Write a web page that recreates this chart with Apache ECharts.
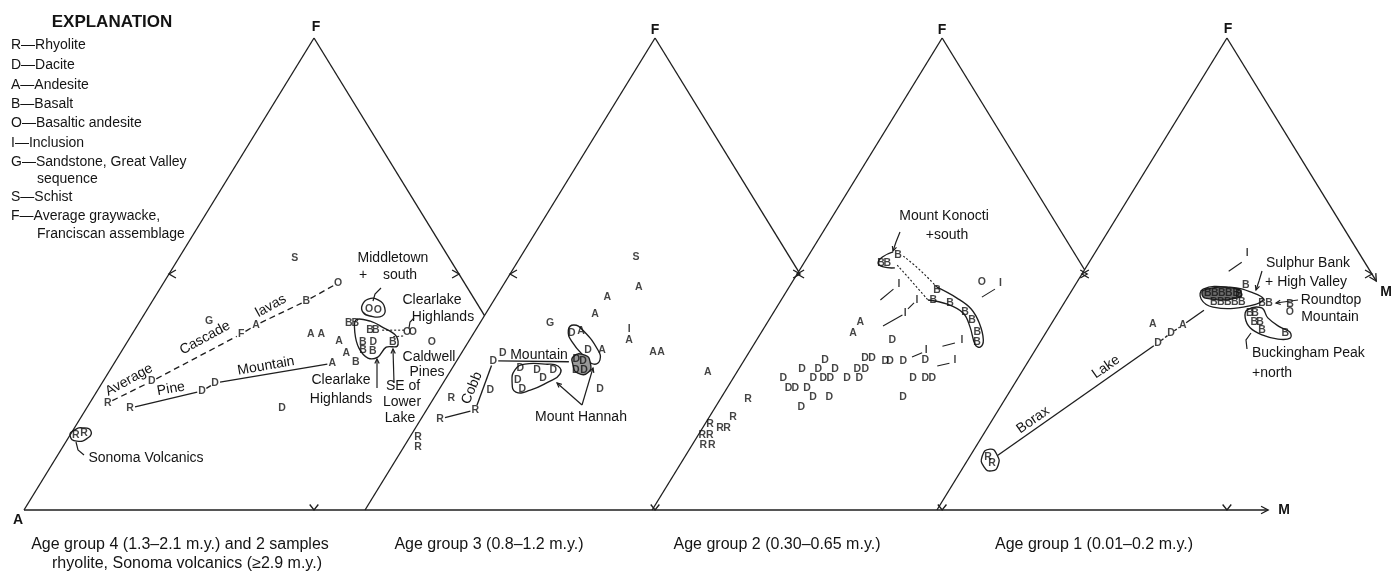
<!DOCTYPE html>
<html>
<head>
<meta charset="utf-8">
<title>AFM diagrams, Clear Lake volcanics</title>
<script src="https://cdn.jsdelivr.net/npm/echarts@6/dist/echarts.min.js"></script>
<style>
  html, body { margin: 0; padding: 0; background: #ffffff; }
  #chart { width: 1393px; height: 576px; }
</style>
</head>
<body>
<div id="chart"></div>
<script>
// ---------------------------------------------------------------
// Four A–F–M ternary diagrams set side by side on one A→M baseline.
// Each sample is [symbol, F %, M %]; A % = 100 − F − M.
// ---------------------------------------------------------------

// Left-vertex offset of each triangle along the baseline (in % of a side)
const triangleOffsets = [0, 58.8, 108.3, 157.4];

const ageGroupCaptions = [
  'Age group 4 (1.3–2.1 m.y.) and 2 samples',
  'Age group 3 (0.8–1.2 m.y.)',
  'Age group 2 (0.30–0.65 m.y.)',
  'Age group 1 (0.01–0.2 m.y.)'
];
const ageGroup4Note = 'rhyolite, Sonoma volcanics (≥2.9 m.y.)';

const legendLines = [
  'R—Rhyolite', 'D—Dacite', 'A—Andesite', 'B—Basalt', 'O—Basaltic andesite',
  'I—Inclusion', 'G—Sandstone, Great Valley', 'sequence', 'S—Schist',
  'F—Average graywacke,', 'Franciscan assemblage'
];

// Age group 4 (first triangle)
const ageGroup4 = [
  ['R', 22.7, 3.1], ['D', 27.3, 8.4], ['F', 37.3, 18.8], ['A', 39.2, 20.4], ['B', 44.3, 26.5], ['O', 48.1, 30.1],
  ['R', 21.6, 7.5], ['D', 25.2, 18.1], ['D', 26.9, 19.5], ['A', 31.1, 37.6],
  ['R', 15.9, 1.0], ['R', 16.3, 2.2],
  ['G', 40.0, 11.9], ['S', 53.4, 20.0], ['D', 21.6, 33.7],
  ['A', 37.3, 30.8], ['A', 37.3, 32.6], ['A', 35.8, 36.4], ['A', 33.3, 38.9], ['B', 31.4, 41.5],
  ['B', 39.6, 36.2], ['B', 39.6, 37.3], ['B', 38.1, 40.6], ['B', 38.1, 41.6], ['B', 35.6, 40.6],
  ['D', 35.6, 42.4], ['B', 33.9, 41.5], ['B', 33.7, 43.3], ['B', 35.6, 45.8],
  ['O', 37.7, 47.2], ['O', 37.7, 48.2], ['O', 35.6, 52.5],
  ['O', 42.6, 38.2], ['O', 42.4, 39.8]
];

// Age group 3 (second triangle)
const ageGroup3 = [
  ['S', 53.6, 19.9], ['A', 47.2, 23.6], ['A', 45.1, 19.2], ['A', 41.5, 18.9], ['G', 39.6, 12.1],
  ['I', 38.3, 26.4], ['A', 36.0, 27.5], ['A', 33.5, 32.9], ['A', 33.5, 34.3], ['A', 29.2, 44.5],
  ['D', 37.5, 16.9], ['A', 37.9, 18.3], ['D', 33.9, 21.5], ['A', 33.9, 23.9],
  ['D', 32.0, 20.4], ['D', 31.6, 21.8], ['D', 29.7, 21.5], ['D', 29.7, 22.9],
  ['D', 31.6, 6.3], ['D', 33.3, 7.1],
  ['D', 30.1, 11.7], ['D', 29.7, 14.8], ['D', 29.7, 17.6], ['D', 27.5, 12.6], ['D', 28.0, 16.7], ['D', 25.6, 14.3],
  ['D', 25.4, 8.9], ['D', 25.6, 27.7],
  ['R', 21.2, 8.4], ['R', 19.3, 3.3], ['R', 23.7, 3.0], ['R', 15.5, 1.4], ['R', 13.3, 2.5]
];

// Age group 2 (third triangle)
const ageGroup2 = [
  ['R', 23.5, 4.8], ['R', 19.7, 4.1], ['R', 17.4, 3.0], ['R', 17.4, 4.2], ['R', 18.2, 0.9],
  ['R', 15.9, 0.7], ['R', 15.9, 2.0], ['R', 13.8, 1.9], ['R', 13.8, 3.4],
  ['D', 36.0, 23.4], ['D', 32.2, 20.6], ['D', 32.2, 21.8], ['D', 31.6, 24.4], ['D', 31.6, 25.2], ['D', 31.6, 27.5],
  ['D', 31.8, 31.2], ['D', 28.0, 31.0], ['D', 28.0, 33.1], ['D', 28.0, 34.3], ['D', 23.9, 31.3],
  ['D', 31.8, 13.9], ['D', 29.9, 10.9], ['D', 29.9, 13.7], ['D', 29.9, 16.6], ['D', 29.9, 20.4], ['D', 29.9, 21.8],
  ['D', 28.0, 8.6], ['D', 28.0, 13.8], ['D', 28.0, 15.5], ['D', 28.0, 16.7], ['D', 28.0, 19.6], ['D', 28.0, 21.7],
  ['D', 25.8, 10.6], ['D', 25.8, 11.8], ['D', 25.8, 13.8], ['D', 23.9, 15.8], ['D', 23.9, 18.6], ['D', 21.8, 14.8],
  ['A', 39.8, 16.0], ['A', 37.5, 15.9],
  ['I', 47.9, 18.6], ['I', 44.5, 23.4], ['I', 41.7, 22.8], ['I', 36.0, 35.4], ['I', 33.9, 30.3], ['I', 31.8, 36.3],
  ['I', 48.1, 36.0], ['O', 48.3, 32.7],
  ['B', 52.3, 13.3], ['B', 52.3, 14.4], ['B', 54.0, 15.4], ['B', 46.6, 25.8], ['B', 44.5, 26.2],
  ['B', 43.9, 29.4], ['B', 41.9, 33.0], ['B', 40.3, 35.0], ['B', 37.7, 37.2], ['B', 35.6, 38.2]
];

// Age group 1 (fourth triangle)
const ageGroup1 = [
  ['R', 11.2, 3.2], ['R', 10.0, 4.5],
  ['D', 35.4, 20.4], ['D', 37.5, 21.6], ['A', 39.2, 22.8], ['A', 39.4, 17.5],
  ['I', 54.4, 26.3], ['B', 47.7, 29.4], ['B', 45.8, 29.2],
  ['B', 46.0, 23.7], ['B', 46.0, 24.9], ['B', 46.0, 26.1], ['B', 46.0, 27.3], ['B', 46.0, 28.6],
  ['B', 44.1, 25.7], ['B', 44.1, 26.9], ['B', 44.1, 28.1], ['B', 44.1, 29.3], ['B', 44.1, 30.5],
  ['B', 43.9, 34.1], ['B', 43.9, 35.3], ['B', 43.6, 39.1], ['O', 41.9, 39.9],
  ['B', 41.7, 33.1], ['B', 41.7, 34.0], ['B', 39.8, 34.8], ['B', 39.8, 35.8], ['B', 38.1, 37.0], ['B', 37.5, 41.3]
];

// Trend lines through volcanic series, [F, M]
const cascadeLavas = [[22.7, 3.1], [27.3, 8.4], [37.3, 18.8], [39.2, 20.4], [44.3, 26.5], [48.1, 30.1]];
const pineMountain = [[21.6, 7.5], [25.2, 18.1], [26.9, 19.5], [31.1, 37.6]];
const cobbMountain = [[19.3, 3.3], [21.2, 8.4], [31.6, 6.3], [31.4, 20.3]];
const boraxLake = [[11.0, 4.3], [35.4, 20.4], [37.5, 21.6], [39.2, 22.8], [42.8, 25.2]];

// Inclusion tie lines, [F, M] pairs
const inclusionTies2 = [
  [[44.5, 17.1], [46.8, 18.2]], [[39.0, 20.3], [41.3, 22.5]], [[42.6, 22.8], [43.9, 23.2]],
  [[34.7, 32.7], [35.4, 34.5]], [[32.4, 28.6], [33.3, 29.9]], [[30.5, 33.9], [31.1, 35.7]],
  [[45.1, 34.3], [46.8, 35.7]]
];
const inclusionTies1 = [[[50.6, 25.0], [52.5, 26.3]]];
const clearlakeLinks = [[[38.1, 42.7], [38.1, 46.6]], [[36.7, 45.3], [36.9, 47.1]]];

// Field outlines, [F, M]
const sonomaField = [[15.7, 0.1], [16.9, 0.2], [17.4, 1.6], [16.7, 3.2], [15.3, 3.4], [14.6, 1.8]];
const middletownField = [[43.4, 36.6], [44.7, 37.0], [44.5, 38.8], [42.8, 40.8], [41.1, 41.2], [41.1, 39.1], [41.9, 37.5]];
const clearlakeField = [[40.3, 37.1], [40.0, 39.7], [38.8, 42.3], [36.9, 45.7], [34.7, 47.0], [34.5, 45.2],
  [32.4, 44.8], [32.2, 43.2], [34.3, 40.6], [37.5, 38.3]];
const hannahUpperField = [[38.1, 16.0], [39.2, 16.4], [38.1, 18.5], [33.9, 23.2], [31.8, 24.6], [30.9, 24.0], [32.2, 22.0], [35.6, 17.9]];
const hannahLowerField = [[29.7, 11.0], [30.9, 12.1], [30.9, 15.6], [30.5, 18.0], [28.8, 19.2], [27.1, 18.0],
  [25.4, 15.8], [25.0, 13.5], [27.1, 11.8]];
const hannahCoreField = [[32.6, 19.7], [32.8, 21.5], [31.4, 23.1], [29.2, 23.9], [29.0, 22.2], [30.7, 20.5]];
const konoctiHook = [[54.7, 14.2], [53.6, 12.9], [52.3, 12.8], [51.5, 14.1], [51.3, 16.2]];
const konoctiDottedUpper = [[53.8, 16.4], [50.8, 20.8], [47.2, 25.5]];
const konoctiDottedLower = [[51.9, 16.3], [48.3, 20.7], [44.5, 25.3]];
const konoctiBand = [[47.2, 25.5], [44.9, 30.1], [42.6, 33.7], [39.6, 36.6], [36.0, 39.1], [34.5, 39.3],
  [35.0, 38.2], [38.8, 35.4], [41.7, 32.8], [43.6, 29.1], [44.5, 25.3]];
const boraxField = [[12.9, 2.7], [11.7, 4.5], [9.5, 5.8], [8.3, 5.3], [9.1, 3.6], [11.4, 2.1]];
const sulphurBankField = [[46.8, 22.5], [47.2, 26.9], [46.0, 31.5], [44.5, 34.0], [43.0, 31.3], [43.0, 26.1], [44.7, 23.2]];
const sulphurBankCore = [[46.6, 22.7], [46.8, 28.5], [45.1, 29.7], [44.9, 23.8]];
const buckinghamField = [[42.4, 32.3], [42.8, 34.6], [40.7, 36.7], [38.8, 39.7], [37.7, 42.0], [36.4, 42.7],
  [36.2, 40.7], [37.1, 37.5], [38.6, 34.7], [40.7, 32.8]];

// ---------------------------------------------------------------
const INK = '#1e1e1e';
const LINE_W = 1.35;
const FONT = '"Liberation Sans", Arial, sans-serif';

// ternary (F, M) inside triangle k -> plotting plane (x along baseline, y = F)
function toXY(k, f, m) { return [triangleOffsets[k] + m + f / 2, f]; }

// ---- stroked shapes (frames, trends, ties, fields)
const strokes = [];
function addStroke(k, pts, opts) {
  strokes.push(Object.assign({ xy: pts.map(p => toXY(k, p[0], p[1])) }, opts || {}));
}
triangleOffsets.forEach((off, k) => {
  addStroke(k, [[0, 0], [100, 0]]);                       // A–F side
  if (k < triangleOffsets.length - 1) {                   // F–M side, cut where the next triangle begins
    const fc = 100 - (triangleOffsets[k + 1] - off);
    addStroke(k, [[100, 0], [fc, 100 - fc]]);
  } else {
    addStroke(k, [[100, 0], [48.5, 51.5]]);
  }
});
strokes.push({ xy: [toXY(0, 0, 0), toXY(3, 0, 57.1)] });  // common A–M baseline

addStroke(0, cascadeLavas, { dash: [6, 4], gap: 5 });
addStroke(0, pineMountain, { gap: 5 });
addStroke(1, cobbMountain, { gap: 5 });
addStroke(3, boraxLake.slice(0, 2), { gap: 5 });
addStroke(3, boraxLake.slice(1, 4), { gap: 4, dash: [3, 2] });
addStroke(3, boraxLake.slice(3, 5), { gap: 4 });
inclusionTies2.forEach(t => addStroke(2, t, { width: 1.1 }));
inclusionTies1.forEach(t => addStroke(3, t, { width: 1.1 }));
clearlakeLinks.forEach(t => addStroke(0, t, { dash: [2, 2], width: 1.1 }));

addStroke(0, sonomaField, { closed: true, smooth: 0.6 });
addStroke(0, middletownField, { closed: true, smooth: 0.5 });
addStroke(0, clearlakeField, { closed: true, smooth: 0.35 });
addStroke(1, hannahUpperField, { closed: true, smooth: 0.5 });
addStroke(1, hannahLowerField, { closed: true, smooth: 0.5 });
addStroke(1, hannahCoreField, { closed: true, smooth: 0.6, fill: '#9a9a9a' });
addStroke(2, konoctiHook, { smooth: 0.5 });
addStroke(2, konoctiDottedUpper, { smooth: 0.5, dash: [2, 2], width: 1.1 });
addStroke(2, konoctiDottedLower, { smooth: 0.5, dash: [2, 2], width: 1.1 });
addStroke(2, konoctiBand, { smooth: 0.4 });
addStroke(3, boraxField, { closed: true, smooth: 0.6 });
addStroke(3, sulphurBankField, { closed: true, smooth: 0.45 });
addStroke(3, sulphurBankCore, { closed: true, smooth: 0.5, fill: '#6e6e6e' });
addStroke(3, buckinghamField, { closed: true, smooth: 0.4 });

function renderStroke(params, api) {
  const s = strokes[api.value(2)];
  const pts = s.xy.map(q => api.coord(q));
  const style = () => ({ stroke: INK, lineWidth: s.width || LINE_W, fill: s.fill || 'none', lineDash: s.dash || null });
  if (s.gap) {
    const children = [];
    for (let i = 0; i < pts.length - 1; i++) {
      const [x1, y1] = pts[i], [x2, y2] = pts[i + 1];
      const L = Math.hypot(x2 - x1, y2 - y1);
      if (L <= 2 * s.gap) continue;
      const ux = (x2 - x1) / L, uy = (y2 - y1) / L;
      children.push({ type: 'line', shape: { x1: x1 + ux * s.gap, y1: y1 + uy * s.gap, x2: x2 - ux * s.gap, y2: y2 - uy * s.gap }, style: style() });
    }
    return { type: 'group', children };
  }
  return { type: s.closed ? 'polygon' : 'polyline', shape: { points: pts, smooth: s.smooth || 0 }, style: style() };
}

// ---- 50 % tick chevrons and arrowheads: [x, y, towardX, towardY, arm length, half-angle]
const tickMarks = [];
triangleOffsets.forEach((off, k) => {
  tickMarks.push([...toXY(k, 0, 50), ...toXY(k, 20, 40), 7, 38]);
  tickMarks.push([...toXY(k, 50, 0), ...toXY(k, 50, 10), 8, 30]);
  tickMarks.push([...toXY(k, 50, 50), ...toXY(k, 50, 40), 8, 30]);
});
tickMarks.push([...toXY(3, 0, 57.1), ...toXY(3, 0, 50), 8, 28]);
tickMarks.push([...toXY(3, 48.5, 51.5), ...toXY(3, 100, 0), 8, 28]);

function renderTick(params, api) {
  const p = api.coord([api.value(0), api.value(1)]);
  const t = api.coord([api.value(2), api.value(3)]);
  let dx = t[0] - p[0], dy = t[1] - p[1];
  const L = Math.hypot(dx, dy); dx /= L; dy /= L;
  const len = api.value(4), a = api.value(5) * Math.PI / 180;
  const arm = s => [p[0] + len * (dx * Math.cos(s) - dy * Math.sin(s)), p[1] + len * (dx * Math.sin(s) + dy * Math.cos(s))];
  return { type: 'polyline', shape: { points: [arm(a), p, arm(-a)] }, style: { stroke: INK, lineWidth: LINE_W, fill: 'none' } };
}

// ---- sample symbols, one series per rock type
const ageGroups = [ageGroup4, ageGroup3, ageGroup2, ageGroup1];
const rockNames = { R: 'Rhyolite', D: 'Dacite', A: 'Andesite', B: 'Basalt', O: 'Basaltic andesite',
  I: 'Inclusion', G: 'Sandstone', S: 'Schist', F: 'Average graywacke' };
const letterSeries = Object.keys(rockNames).map(code => ({
  type: 'scatter', name: rockNames[code], z: 6, silent: true, animation: false,
  symbolSize: 1, itemStyle: { color: 'rgba(0,0,0,0)' },
  data: ageGroups.flatMap((g, k) => g.filter(s => s[0] === code).map(s => toXY(k, s[1], s[2]))),
  label: { show: true, position: 'inside', formatter: code, fontSize: 10.5, fontWeight: 'bold',
    fontFamily: FONT, color: '#141414' }
}));

// ---- annotation text and leaders (screen layout)
const graphics = [];
function txt(text, x, y, o) {
  o = o || {};
  graphics.push({ type: 'text', x, y, rotation: (o.rot || 0) * Math.PI / 180, z: 10,
    style: { text, fill: o.color || '#141414', font: `${o.weight || 'normal'} ${o.size || 14}px ${FONT}`,
      align: o.align || 'center', verticalAlign: 'middle' } });
}
function leader(pts, arrow) {
  graphics.push({ type: 'polyline', z: 10, shape: { points: pts }, style: { stroke: INK, lineWidth: 1.2, fill: null } });
  if (arrow) {
    const [x2, y2] = pts[pts.length - 1], [x1, y1] = pts[pts.length - 2];
    const L = Math.hypot(x2 - x1, y2 - y1), ux = (x1 - x2) / L, uy = (y1 - y2) / L, a = 0.45, n = 5;
    const arm = s => [x2 + n * (ux * Math.cos(s) - uy * Math.sin(s)), y2 + n * (ux * Math.sin(s) + uy * Math.cos(s))];
    graphics.push({ type: 'polyline', z: 10, shape: { points: [arm(a), [x2, y2], arm(-a)] }, style: { stroke: INK, lineWidth: 1.2, fill: null } });
  }
}

// explanation
txt('EXPLANATION', 112, 22, { size: 17, weight: 'bold' });
const legendY = [45, 65, 85, 104, 123, 143, 162, 179, 197, 216, 234];
legendLines.forEach((line, i) => {
  const indent = (line === 'sequence' || line === 'Franciscan assemblage') ? 37 : 11;
  txt(line, indent, legendY[i], { size: 14, align: 'left' });
});

// vertices
[[316, 27], [655, 30], [942, 30], [1228, 29]].forEach(p => txt('F', p[0], p[1], { size: 14, weight: 'bold' }));
txt('A', 18, 520, { size: 14, weight: 'bold' });
txt('M', 1284, 510, { size: 14, weight: 'bold' });
txt('M', 1386, 292, { size: 14, weight: 'bold' });

// captions
txt(ageGroupCaptions[0], 180, 545, { size: 16 });
txt(ageGroup4Note, 187, 564, { size: 16 });
txt(ageGroupCaptions[1], 489, 545, { size: 16 });
txt(ageGroupCaptions[2], 777, 545, { size: 16 });
txt(ageGroupCaptions[3], 1094, 545, { size: 16 });

// trend names
txt('Average', 129, 380, { rot: 29 });
txt('Cascade', 205, 338, { rot: 29 });
txt('lavas', 271, 306, { rot: 29 });
txt('Pine', 171, 389, { rot: 10 });
txt('Mountain', 266, 366, { rot: 10 });
txt('Cobb', 472, 388, { rot: 67 });
txt('Mountain', 539, 355);
txt('Borax', 1033, 420, { rot: 35 });
txt('Lake', 1106, 367, { rot: 35 });

// localities
txt('Middletown', 393, 258); txt('+', 363, 275); txt('south', 400, 275);
txt('Clearlake', 432, 300); txt('Highlands', 443, 317);
txt('Caldwell', 429, 357); txt('Pines', 427, 372);
txt('Clearlake', 341, 380); txt('Highlands', 341, 399);
txt('SE of', 403, 386); txt('Lower', 402, 402); txt('Lake', 400, 418);
txt('Sonoma Volcanics', 146, 458);
txt('Mount Hannah', 581, 417);
txt('Mount Konocti', 944, 216); txt('+south', 947, 235);
txt('Sulphur Bank', 1308, 263); txt('+ High Valley', 1306, 282);
txt('Roundtop', 1331, 300); txt('Mountain', 1330, 317);
txt('Buckingham Peak', 1252, 353, { align: 'left' }); txt('+north', 1252, 373, { align: 'left' });

leader([[381, 288], [375, 294], [373, 301]], false);
leader([[414, 318], [410, 322], [409, 328]], false);
leader([[377, 388], [377, 359]], true);
leader([[394, 383], [393, 349]], true);
leader([[76, 442], [78, 450], [84, 455]], false);
leader([[582, 405], [557, 383]], true);
leader([[582, 405], [593, 368]], true);
leader([[900, 232], [896, 242], [893, 251]], true);
leader([[1262, 271], [1259, 281], [1256, 290]], true);
leader([[1298, 300], [1276, 303]], true);
leader([[1251, 333], [1246, 340], [1247, 349]], false);

const chart = echarts.init(document.getElementById('chart'), null, { renderer: 'canvas' });
chart.setOption({
  animation: false,
  backgroundColor: '#ffffff',
  grid: { left: 0, right: 0, top: 0, bottom: 0 },
  xAxis: { type: 'value', min: -4.138, max: 236.03, show: false },
  yAxis: { type: 'value', min: -13.98, max: 108.05, show: false },
  series: [
    { type: 'custom', name: 'lines', z: 2, silent: true, clip: false, renderItem: renderStroke,
      data: strokes.map((s, i) => [s.xy[0][0], s.xy[0][1], i]) },
    { type: 'custom', name: 'ticks', z: 3, silent: true, clip: false, renderItem: renderTick,
      data: tickMarks },
    ...letterSeries
  ],
  graphic: graphics
});
</script>
</body>
</html>
